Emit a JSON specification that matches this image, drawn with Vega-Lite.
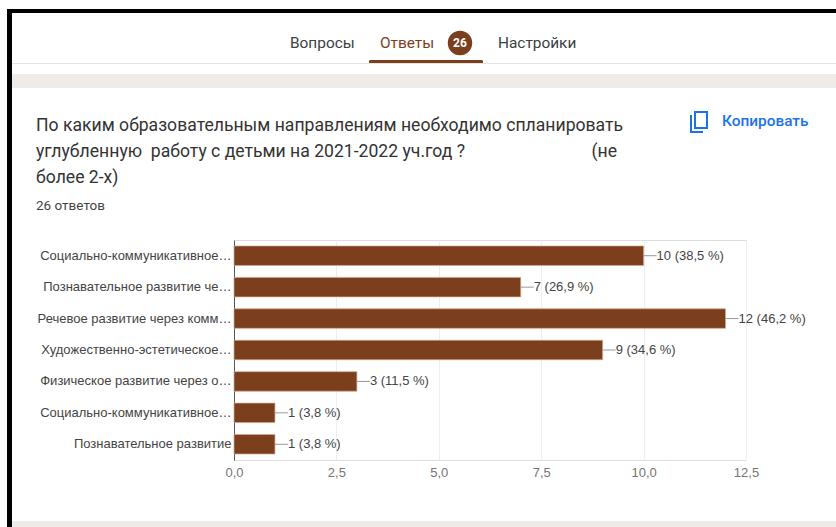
{
"$schema":"https://vega.github.io/schema/vega-lite/v6.json",
"width":512,"height":220,
"autosize":{"type":"none"},
"padding":{"left":234,"top":240,"right":90,"bottom":67},
"background":"#ffffff",
"title":{"text":["По каким образовательным направлениям необходимо спланировать","углубленную\u00a0 работу с детьми на 2021-2022 уч.год ?\u00a0\u00a0\u00a0\u00a0\u00a0\u00a0\u00a0\u00a0\u00a0\u00a0\u00a0\u00a0\u00a0\u00a0\u00a0\u00a0\u00a0\u00a0\u00a0\u00a0\u00a0\u00a0\u00a0\u00a0\u00a0\u00a0\u00a0\u00a0\u00a0(не","более 2-х)"],
"subtitle":"26 ответов","anchor":"start","frame":"group","dx":-198,"offset":-203,"font":"Roboto","fontSize":17.6,"fontWeight":"normal","color":"#333333","lineHeight":26,"subtitleFont":"Roboto","subtitleFontSize":13.5,"subtitleColor":"#444444","subtitlePadding":12},
"data":{"values":[
{"category":"Социально-коммуникативное…","count":10,"label":"10 (38,5 %)"},
{"category":"Познавательное развитие че…","count":7,"label":"7 (26,9 %)"},
{"category":"Речевое развитие через комм…","count":12,"label":"12 (46,2 %)"},
{"category":"Художественно-эстетическое…","count":9,"label":"9 (34,6 %)"},
{"category":"Физическое развитие через о…","count":3,"label":"3 (11,5 %)"},
{"category":"Социально-коммуникативное…\u200b","count":1,"label":"1 (3,8 %)"},
{"category":"Познавательное развитие","count":1,"label":"1 (3,8 %)"}
]},
"layer":[
{"data":{"values":[{"part":"strip"}]},"mark":{"type":"rect","color":"#f0ebe6"},"encoding":{"x":{"value":-222},"x2":{"value":602},"y":{"value":-166},"y2":{"value":-152}}},
{"data":{"values":[{"part":"strip bottom"}]},"mark":{"type":"rect","color":"#efebe7"},"encoding":{"x":{"value":-222},"x2":{"value":602},"y":{"value":281},"y2":{"value":287}}},
{"mark":{"type":"bar","color":"#7b3f1d","stroke":"#cfa98c","strokeWidth":0.7},
"encoding":{
"y":{"field":"category","type":"nominal","sort":null,"title":null,"scale":{"paddingInner":0.38,"paddingOuter":0.19},
"axis":{"ticks":false,"domainColor":"#555555","domainWidth":1,"labelFont":"Liberation Sans","labelFontSize":13,"labelColor":"#444444","labelPadding":3,"labelLimit":220}},
"x":{"field":"count","type":"quantitative","title":null,"scale":{"domain":[0,12.5],"nice":false},
"axis":{"values":[0,2.5,5,7.5,10,12.5],"labelExpr":"replace(format(datum.value,'.1f'),'.',',')","labelFlush":false,"ticks":false,"domain":false,"grid":true,"gridColor":"#eeeeee","labelFont":"Liberation Sans","labelFontSize":13,"labelColor":"#757575","labelPadding":6}}
}},
{"mark":{"type":"rule","color":"#999999","x2Offset":13},"encoding":{"y":{"field":"category","type":"nominal","sort":null},"x":{"field":"count","type":"quantitative"},"x2":{"field":"count"}}},
{"mark":{"type":"text","align":"left","dx":13,"font":"Liberation Sans","fontSize":13,"color":"#444444"},"encoding":{"y":{"field":"category","type":"nominal","sort":null},"x":{"field":"count","type":"quantitative"},"text":{"field":"label"}}},
{"data":{"values":[{"part":"frame left"}]},"mark":{"type":"rect","color":"#000000"},"encoding":{"x":{"value":-227},"x2":{"value":-222},"y":{"value":-231},"y2":{"value":287}}},
{"data":{"values":[{"part":"frame top"}]},"mark":{"type":"rect","color":"#000000"},"encoding":{"x":{"value":-227},"x2":{"value":602},"y":{"value":-231},"y2":{"value":-227}}},
{"data":{"values":[{"part":"tab line"}]},"mark":{"type":"rect","color":"#e4e4e4"},"encoding":{"x":{"value":-222},"x2":{"value":602},"y":{"value":-177},"y2":{"value":-176}}},
{"data":{"values":[{"part":"tab underline"}]},"mark":{"type":"rect","color":"#7b3f1d","cornerRadiusTopLeft":2,"cornerRadiusTopRight":2},"encoding":{"x":{"value":135},"x2":{"value":249},"y":{"value":-180},"y2":{"value":-177}}},
{"data":{"values":[{"part":"badge"}]},"mark":{"type":"point","filled":true,"color":"#7b3f1d","opacity":1,"size":600},"encoding":{"x":{"value":226},"y":{"value":-197}}},
{"data":{"values":[{"t":"Вопросы"}]},"mark":{"type":"text","align":"left","baseline":"middle","font":"Roboto","fontSize":15.4,"color":"#3c4043"},"encoding":{"x":{"value":56},"y":{"value":-197},"text":{"field":"t"}}},
{"data":{"values":[{"t":"Ответы"}]},"mark":{"type":"text","align":"left","baseline":"middle","font":"Roboto","fontSize":15.4,"color":"#7b3f1d"},"encoding":{"x":{"value":146},"y":{"value":-197},"text":{"field":"t"}}},
{"data":{"values":[{"t":"Настройки"}]},"mark":{"type":"text","align":"left","baseline":"middle","font":"Roboto","fontSize":15.4,"color":"#3c4043"},"encoding":{"x":{"value":264},"y":{"value":-197},"text":{"field":"t"}}},
{"data":{"values":[{"t":"26"}]},"mark":{"type":"text","align":"center","baseline":"middle","font":"Roboto","fontSize":12,"fontWeight":"bold","color":"#ffffff"},"encoding":{"x":{"value":226},"y":{"value":-197},"text":{"field":"t"}}},
{"data":{"values":[{"t":"Копировать"}]},"mark":{"type":"text","align":"left","baseline":"middle","font":"Roboto","fontSize":15.4,"fontWeight":500,"color":"#1a73e8"},"encoding":{"x":{"value":488},"y":{"value":-119},"text":{"field":"t"}}},
{"data":{"values":[{"part":"icon front"}]},"mark":{"type":"rect","fill":"#ffffff","stroke":"#1a73e8","strokeWidth":2},"encoding":{"x":{"value":461},"x2":{"value":473},"y":{"value":-128},"y2":{"value":-112}}},
{"data":{"values":[{"part":"icon back"}]},"mark":{"type":"rect","color":"#1a73e8"},"encoding":{"x":{"value":456},"x2":{"value":458},"y":{"value":-125},"y2":{"value":-107}}},
{"data":{"values":[{"part":"icon back foot"}]},"mark":{"type":"rect","color":"#1a73e8"},"encoding":{"x":{"value":456},"x2":{"value":469},"y":{"value":-109},"y2":{"value":-107}}}
]
}
